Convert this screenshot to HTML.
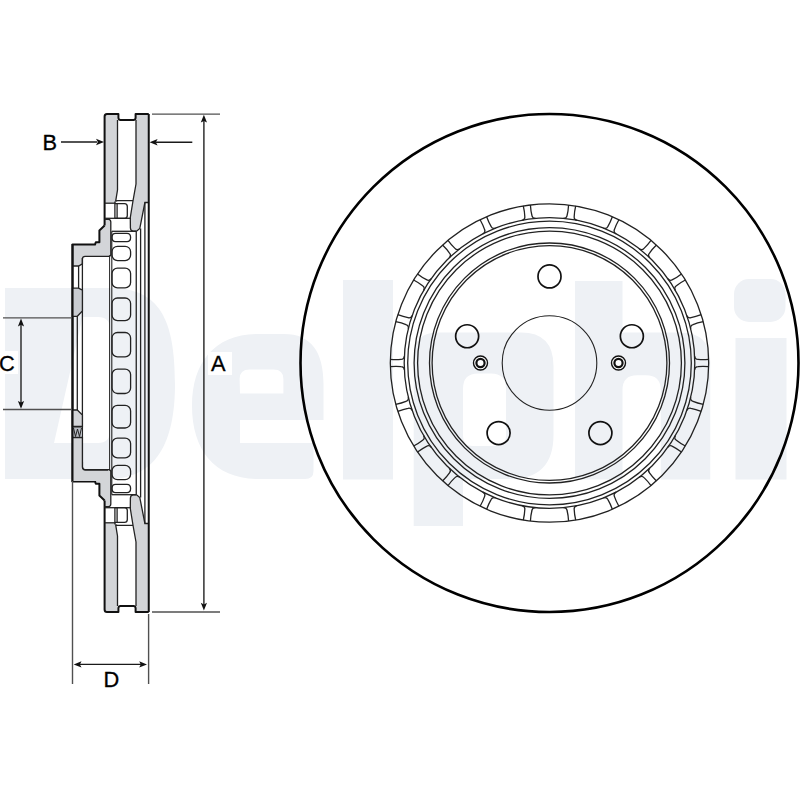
<!DOCTYPE html>
<html><head><meta charset="utf-8"><style>
html,body{margin:0;padding:0;background:#fff;}
svg{display:block;}
text{font-family:"Liberation Sans",sans-serif;}
</style></head><body>
<svg width="800" height="800" viewBox="0 0 800 800">
<rect width="800" height="800" fill="#fff"/>

<g fill="#eef1f5">
  <!-- D -->
  <path fill-rule="evenodd" d="M5 288 H110 C160 288 175 320 175 384 C175 440 158 479 108 479 H5 Z
     M82.5 317 H98 Q110 317 110 329 V431 Q110 443 98 443 H54 Z"/>
  <!-- e -->
  <path fill-rule="evenodd" d="M258 334 H284 C311 334 323.5 352 323.5 384 V420 H240 V443 H313.5 V471 Q313.5 479 305 479 H258 C215 479 192 450 192 406 C192 362 215 334 258 334 Z
     M240 393.5 H283.4 V379 Q283.4 369.4 273.5 369.4 H249.5 Q239.6 369.4 239.6 379 Z"/>
  <!-- l -->
  <rect x="343" y="280" width="50" height="199.5"/>
  <!-- p -->
  <path fill-rule="evenodd" d="M413.7 356 Q413.7 332.4 438 332.4 H521 Q553.5 332.4 553.5 366 V435 Q553.5 479 510 479 H463 V526 H413.7 Z
     M463 389 Q463 373.6 478 373.6 H491 Q506 373.6 506 389 V436 Q506 446 496 446 H473 Q463 446 463 436 Z"/>
  <!-- h -->
  <path d="M575 281 H622.5 V332.5 H680 Q710.25 332.5 710.25 362 V479.5 H660.75 V390 Q660.75 375.25 646 375.25 H637 Q622.5 375.25 622.5 390 V479.5 H575 Z"/>
  <!-- i -->
  <rect x="734" y="279" width="51.5" height="43" rx="15"/>
  <rect x="735.5" y="338" width="51" height="141.5"/>
</g>


<g fill="none" stroke="#222" stroke-width="1.3">
<circle cx="549.5" cy="363.0" r="159.2"/>
<circle cx="549.5" cy="363.0" r="145.3"/>
<circle cx="549.5" cy="363.0" r="141.8"/>
<circle cx="549.5" cy="363.0" r="135.4"/>
<circle cx="549.5" cy="363.0" r="131.9"/>
<circle cx="549.5" cy="363.0" r="120.0"/>
<circle cx="549.5" cy="363.0" r="117.4"/>
<circle cx="549.5" cy="363.0" r="47.3" stroke-width="1.1"/>
<path d="M568.59 204.95Q568.23 210.97 567.07 215.47Q566.63 218.54 563.23 218.35"/>
<path d="M575.71 205.97Q574.36 211.85 574.20 216.49Q573.76 219.56 577.08 220.34"/>
<path d="M612.34 216.73Q610.30 222.41 607.93 226.40Q606.64 229.22 603.42 228.08"/>
<path d="M618.89 219.72Q615.94 224.98 614.48 229.39Q613.19 232.21 616.16 233.89"/>
<path d="M651.01 240.36Q647.45 245.23 644.05 248.39Q642.02 250.73 639.25 248.73"/>
<path d="M656.45 245.07Q652.13 249.29 649.49 253.11Q647.46 255.45 649.83 257.90"/>
<path d="M681.45 273.92Q676.66 277.60 672.51 279.67Q669.90 281.35 667.81 278.65"/>
<path d="M685.34 279.98Q680.01 282.81 676.40 285.73Q673.79 287.40 675.38 290.42"/>
<path d="M701.20 314.71Q695.57 316.88 691.00 317.70Q688.03 318.57 686.78 315.40"/>
<path d="M703.23 321.61Q697.32 322.83 693.03 324.61Q690.05 325.48 690.72 328.83"/>
<path d="M708.66 359.40Q702.65 359.90 698.03 359.40Q694.93 359.40 694.63 356.00"/>
<path d="M708.66 366.60Q702.65 366.10 698.03 366.60Q694.93 366.60 694.63 370.00"/>
<path d="M703.23 404.39Q697.32 403.17 693.03 401.39Q690.05 400.52 690.72 397.17"/>
<path d="M701.20 411.29Q695.57 409.12 691.00 408.30Q688.03 407.43 686.78 410.60"/>
<path d="M685.34 446.02Q680.01 443.19 676.40 440.27Q673.79 438.60 675.38 435.58"/>
<path d="M681.45 452.08Q676.66 448.40 672.51 446.33Q669.90 444.65 667.81 447.35"/>
<path d="M656.45 480.93Q652.13 476.71 649.49 472.89Q647.46 470.55 649.83 468.10"/>
<path d="M651.01 485.64Q647.45 480.77 644.05 477.61Q642.02 475.27 639.25 477.27"/>
<path d="M618.89 506.28Q615.94 501.02 614.48 496.61Q613.19 493.79 616.16 492.11"/>
<path d="M612.34 509.27Q610.30 503.59 607.93 499.60Q606.64 496.78 603.42 497.92"/>
<path d="M575.71 520.03Q574.36 514.15 574.20 509.51Q573.76 506.44 577.08 505.66"/>
<path d="M568.59 521.05Q568.23 515.03 567.07 510.53Q566.63 507.46 563.23 507.65"/>
<path d="M530.41 521.05Q530.77 515.03 531.93 510.53Q532.37 507.46 535.77 507.65"/>
<path d="M523.29 520.03Q524.64 514.15 524.80 509.51Q525.24 506.44 521.92 505.66"/>
<path d="M486.66 509.27Q488.70 503.59 491.07 499.60Q492.36 496.78 495.58 497.92"/>
<path d="M480.11 506.28Q483.06 501.02 484.52 496.61Q485.81 493.79 482.84 492.11"/>
<path d="M447.99 485.64Q451.55 480.77 454.95 477.61Q456.98 475.27 459.75 477.27"/>
<path d="M442.55 480.93Q446.87 476.71 449.51 472.89Q451.54 470.55 449.17 468.10"/>
<path d="M417.55 452.08Q422.34 448.40 426.49 446.33Q429.10 444.65 431.19 447.35"/>
<path d="M413.66 446.02Q418.99 443.19 422.60 440.27Q425.21 438.60 423.62 435.58"/>
<path d="M397.80 411.29Q403.43 409.12 408.00 408.30Q410.97 407.43 412.22 410.60"/>
<path d="M395.77 404.39Q401.68 403.17 405.97 401.39Q408.95 400.52 408.28 397.17"/>
<path d="M390.34 366.60Q396.35 366.10 400.97 366.60Q404.07 366.60 404.37 370.00"/>
<path d="M390.34 359.40Q396.35 359.90 400.97 359.40Q404.07 359.40 404.37 356.00"/>
<path d="M395.77 321.61Q401.68 322.83 405.97 324.61Q408.95 325.48 408.28 328.83"/>
<path d="M397.80 314.71Q403.43 316.88 408.00 317.70Q410.97 318.57 412.22 315.40"/>
<path d="M413.66 279.98Q418.99 282.81 422.60 285.73Q425.21 287.40 423.62 290.42"/>
<path d="M417.55 273.92Q422.34 277.60 426.49 279.67Q429.10 281.35 431.19 278.65"/>
<path d="M442.55 245.07Q446.87 249.29 449.51 253.11Q451.54 255.45 449.17 257.90"/>
<path d="M447.99 240.36Q451.55 245.23 454.95 248.39Q456.98 250.73 459.75 248.73"/>
<path d="M480.11 219.72Q483.06 224.98 484.52 229.39Q485.81 232.21 482.84 233.89"/>
<path d="M486.66 216.73Q488.70 222.41 491.07 226.40Q492.36 229.22 495.58 228.08"/>
<path d="M523.29 205.97Q524.64 211.85 524.80 216.49Q525.24 219.56 521.92 220.34"/>
<path d="M530.41 204.95Q530.77 210.97 531.93 215.47Q532.37 218.54 535.77 218.35"/>
</g>
<g fill="none" stroke="#111" stroke-width="1.7">
<circle cx="549.50" cy="276.40" r="11.5"/>
<circle cx="631.86" cy="336.24" r="11.5"/>
<circle cx="600.40" cy="433.06" r="11.5"/>
<circle cx="498.60" cy="433.06" r="11.5"/>
<circle cx="467.14" cy="336.24" r="11.5"/>
</g>
<g fill="#fff" stroke="#111">
<circle cx="480.5" cy="363" r="7" stroke-width="1.4"/>
<circle cx="480.5" cy="363" r="4.1" stroke-width="2.2"/>
<circle cx="618.5" cy="363" r="7" stroke-width="1.4"/>
<circle cx="618.5" cy="363" r="4.1" stroke-width="2.2"/>
</g>
<circle cx="549.5" cy="363.0" r="249.0" fill="none" stroke="#000" stroke-width="2.6"/>

<g id="sec">
<g>
  <!-- gray fills -->
  <g fill="#d3d5d8" stroke="none">
    <path d="M104.5 114 H117.5 V190 L115.6 203 H104.5 Z"/>
    <path d="M136 114 H148.75 V202.5 H144.9 L139.8 228.5 L136.6 231.2 H133 Q130.6 231 130.4 228 L130.3 217.5 Q133 200 136 184 Z"/>
    <path d="M72.5 244.6 H95 L95.8 242.7 H99.2 L99.4 230.4 L104.2 226.2 V222 Q104.4 219.4 107 219.4 H108.5 Q110.8 219.6 110.8 222 V254.7 Q110.6 256.3 108.5 256.3 H85 Q82.6 256.4 82.4 258.6 V263.8 L78.6 266 H72.5 Z"/>
  </g>
  <!-- thick outline -->
  <path fill="none" stroke="#111" stroke-width="2" stroke-linejoin="round" d="M104.6 225.5 V116.5 Q104.6 114 107 114 H118.4 V118 Q118.6 120 120.6 120 H133.4 Q135.4 120 135.6 118 V114 H148.75"/>
  <path fill="none" stroke="#111" stroke-width="2" stroke-linejoin="round" d="M104.6 225.5 L99.4 230.4 V242.2 H95.8 L95 244.6 H72.5 V363"/>
  <!-- thin lines -->
  <g fill="none" stroke="#222" stroke-width="1.3">
    <path d="M117.5 120 V190 L115.6 201.6 Q115.8 200.6 117.6 200.6 H133"/>
    <path d="M104.6 203.2 H115.6"/>
    <path d="M114.9 201.5 V218.3"/>
    <path d="M114.9 203.6 H124.5 Q127.3 203.6 127.3 206.5 V215.4 Q127.3 218.3 124.5 218.3 H114.9"/>
    <path d="M117.1 203.6 V218.3"/>
    <path d="M104.6 218.3 H131"/>
    <path d="M136 120 V184 Q133 200 130.3 217.5 L130.4 228 Q130.6 231 133 231.2 H136.6 L139.8 228.5 L144.9 202.5 H148.75"/>
    <path d="M104.4 219.6 Q104.6 219.4 107 219.4 H108.5 Q110.8 219.6 110.8 222 V254.7 Q110.6 256.3 108.5 256.3 H85 Q82.6 256.4 82.4 258.6 V263.8 L78.6 266 H72.5"/>
    <path d="M111.9 231.3 H136.3"/>
    <!-- holes -->
    <path d="M115.5 233.4 H127 Q130.6 233.4 130.6 237.5 Q130.6 241.6 127 241.6 H115.5 Q112 241.6 112 237.5 Q112 233.4 115.5 233.4 Z"/>
    <rect x="112" y="246.3" width="18.6" height="14.3" rx="5.5"/>
    <rect x="112" y="268.1" width="18.6" height="19.8" rx="5.5"/>
    <rect x="112" y="298" width="18.6" height="22.6" rx="5.5"/>
    <rect x="112" y="332.5" width="18.6" height="24.4" rx="5.5"/>
  </g>
</g>
<g transform="translate(0 726) scale(1 -1)">
  <!-- gray fills -->
  <g fill="#d3d5d8" stroke="none">
    <path d="M104.5 114 H117.5 V190 L115.6 203 H104.5 Z"/>
    <path d="M136 114 H148.75 V202.5 H144.9 L139.8 228.5 L136.6 231.2 H133 Q130.6 231 130.4 228 L130.3 217.5 Q133 200 136 184 Z"/>
    <path d="M72.5 244.6 H95 L95.8 242.7 H99.2 L99.4 230.4 L104.2 226.2 V222 Q104.4 219.4 107 219.4 H108.5 Q110.8 219.6 110.8 222 V254.7 Q110.6 256.3 108.5 256.3 H85 Q82.6 256.4 82.4 258.6 V263.8 L78.6 266 H72.5 Z"/>
  </g>
  <!-- thick outline -->
  <path fill="none" stroke="#111" stroke-width="2" stroke-linejoin="round" d="M104.6 225.5 V116.5 Q104.6 114 107 114 H118.4 V118 Q118.6 120 120.6 120 H133.4 Q135.4 120 135.6 118 V114 H148.75"/>
  <path fill="none" stroke="#111" stroke-width="2" stroke-linejoin="round" d="M104.6 225.5 L99.4 230.4 V242.2 H95.8 L95 244.6 H72.5 V363"/>
  <!-- thin lines -->
  <g fill="none" stroke="#222" stroke-width="1.3">
    <path d="M117.5 120 V190 L115.6 201.6 Q115.8 200.6 117.6 200.6 H133"/>
    <path d="M104.6 203.2 H115.6"/>
    <path d="M114.9 201.5 V218.3"/>
    <path d="M114.9 203.6 H124.5 Q127.3 203.6 127.3 206.5 V215.4 Q127.3 218.3 124.5 218.3 H114.9"/>
    <path d="M117.1 203.6 V218.3"/>
    <path d="M104.6 218.3 H131"/>
    <path d="M136 120 V184 Q133 200 130.3 217.5 L130.4 228 Q130.6 231 133 231.2 H136.6 L139.8 228.5 L144.9 202.5 H148.75"/>
    <path d="M104.4 219.6 Q104.6 219.4 107 219.4 H108.5 Q110.8 219.6 110.8 222 V254.7 Q110.6 256.3 108.5 256.3 H85 Q82.6 256.4 82.4 258.6 V263.8 L78.6 266 H72.5"/>
    <path d="M111.9 231.3 H136.3"/>
    <!-- holes -->
    <path d="M115.5 233.4 H127 Q130.6 233.4 130.6 237.5 Q130.6 241.6 127 241.6 H115.5 Q112 241.6 112 237.5 Q112 233.4 115.5 233.4 Z"/>
    <rect x="112" y="246.3" width="18.6" height="14.3" rx="5.5"/>
    <rect x="112" y="268.1" width="18.6" height="19.8" rx="5.5"/>
    <rect x="112" y="298" width="18.6" height="22.6" rx="5.5"/>
    <rect x="112" y="332.5" width="18.6" height="24.4" rx="5.5"/>
  </g>
</g>

<!-- full height lines -->
<path fill="none" stroke="#111" stroke-width="2" d="M148.75 114 V612"/>
<g fill="none" stroke="#222" stroke-width="1.3">
  <path d="M82.4 258 V468"/>
  <path d="M109.6 255.5 V470.5" stroke-width="1"/>
  <path d="M111.8 231.3 V494.7" stroke-width="1.1"/>
  <path d="M136.25 231.3 V494.7"/>
  <path d="M140.6 228.5 V497.5"/>
  <path d="M144.9 202.5 V523.5"/>
  <path d="M78.6 266 V288"/>
  <path d="M77.3 316.3 V410"/>
</g>
<!-- lens top -->
<path fill="#c9ccd1" stroke="#222" stroke-width="1.3" d="M72.5 288.2 H78.6 L82.4 290.2 V311 L77.3 316.3 H72.5 Z"/>
<!-- lens bottom -->
<path fill="#d3d5d8" stroke="#222" stroke-width="1.3" d="M72.5 410 H77.3 L82.4 415 V426.5 H72.5 Z"/>
<!-- hatch -->
<rect x="72.5" y="427" width="10" height="10.5" fill="#b8bcc3" stroke="#222" stroke-width="1"/>
<path fill="none" stroke="#222" stroke-width="1" d="M73.5 428 L75.5 436.5 L77.5 429 L79.5 436.5 L81.5 428"/>
<!-- gray lower bore -->
<path fill="#d3d5d8" stroke="none" d="M72.5 437.5 H82.4 V467 Q82.6 470.2 85.5 470.2 H108 V481 H72.5 Z"/>
<path fill="none" stroke="#222" stroke-width="1.3" d="M72.5 437.5 H82.4 V467 Q82.6 470.2 85.5 470.2 H108"/>
<path fill="none" stroke="#111" stroke-width="2" d="M72.5 244 V482"/>
<!-- extensions and dimensions -->
<g fill="none" stroke="#505050" stroke-width="1.4">
  <path d="M152 114.1 H220"/>
  <path d="M152 612 H220"/>
  <path d="M3 317.9 H72"/>
  <path d="M3 409.5 H72"/>
  <path d="M72.5 481 V684"/>
  <path d="M148.6 614 V684"/>
</g>
<g fill="none" stroke="#1a1a1a" stroke-width="1.35">
  <path d="M203.9 120 V605"/>
  <path d="M61 142 H97"/>
  <path d="M156 142.2 H192.3"/>
  <path d="M21 324 V403"/>
  <path d="M80 664.4 H141"/>
</g>
<g fill="#111" stroke="none">
  <path d="M104 142 L96 138.8 L97.8 142 L96 145.2 Z"/>
  <path d="M149.6 142.2 L157.6 139 L155.8 142.2 L157.6 145.4 Z"/>
  <path d="M203.9 114.8 L200.8 122.6 L203.9 121 L207 122.6 Z"/>
  <path d="M203.9 610.6 L200.8 602.8 L203.9 604.4 L207 602.8 Z"/>
  <path d="M21 318.6 L17.9 326.4 L21 324.8 L24.1 326.4 Z"/>
  <path d="M21 408.8 L17.9 401 L21 402.6 L24.1 401 Z"/>
  <path d="M73.7 664.4 L81.5 661.3 L79.9 664.4 L81.5 667.5 Z"/>
  <path d="M147 664.4 L139.2 661.3 L140.8 664.4 L139.2 667.5 Z"/>
</g>
<g font-family="Liberation Sans, sans-serif" font-size="21.8" fill="#000" stroke="#000" stroke-width="0.3">
  <rect x="208" y="352" width="24" height="23" fill="#fff" stroke="none"/>
  <rect x="0" y="351" width="18" height="23" fill="#fff" stroke="none"/>
  <text x="211" y="371">A</text>
  <text x="42.5" y="150">B</text>
  <text x="-1" y="370.5">C</text>
  <text x="103.5" y="687">D</text>
</g>
</g>

</svg>
</body></html>
